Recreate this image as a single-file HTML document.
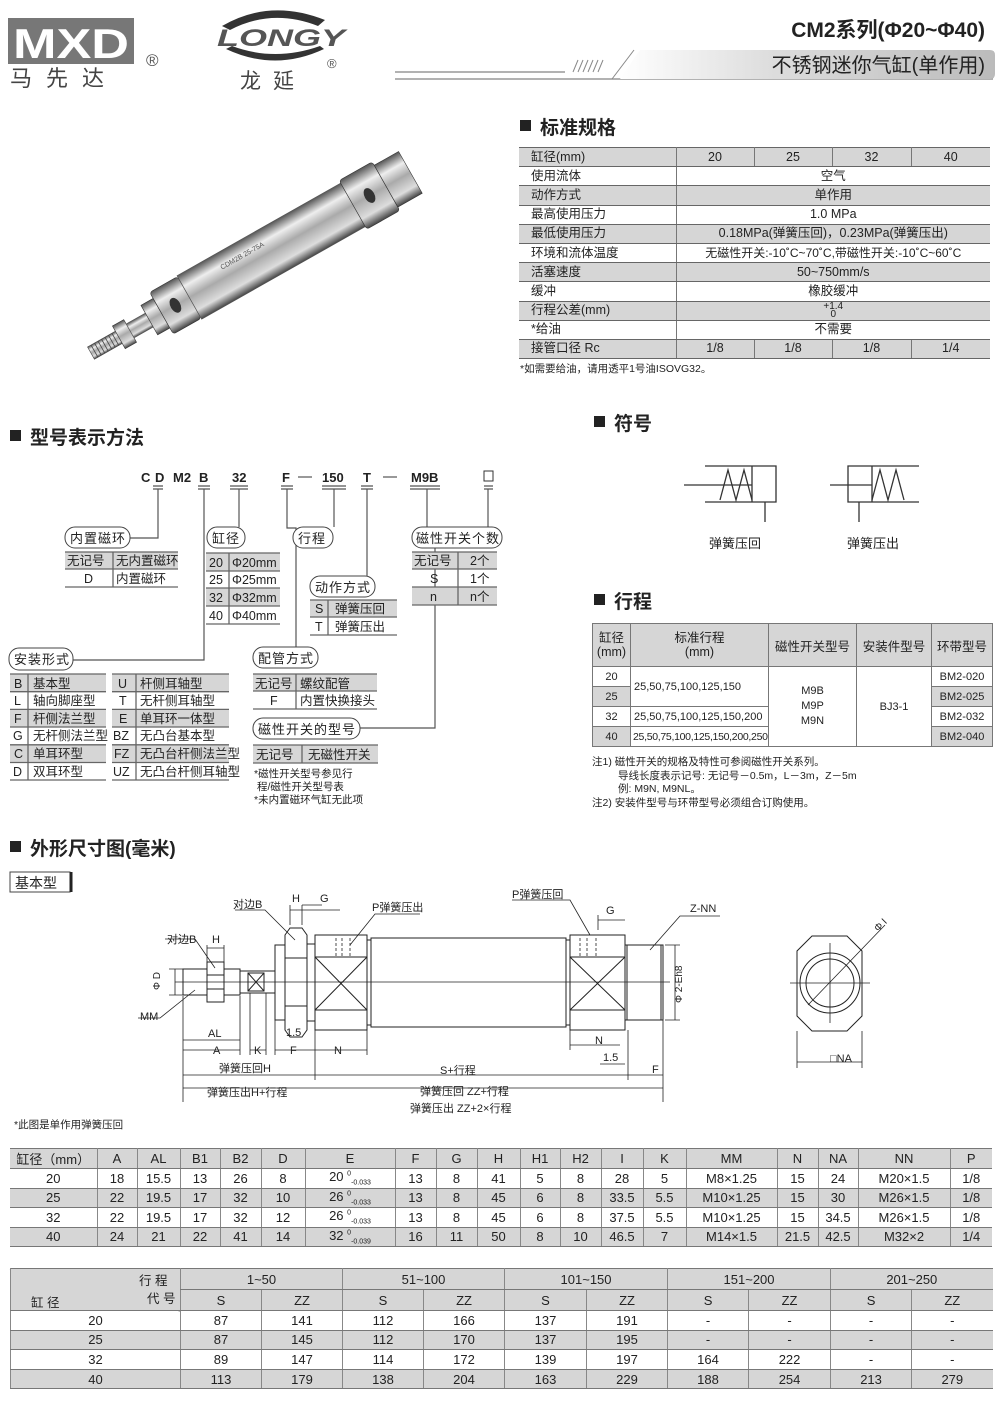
<!DOCTYPE html>
<html><head><meta charset="utf-8">
<style>
body{margin:0;background:#fff;}
#pg{position:relative;width:1000px;height:1403px;overflow:hidden;background:#fff;font-family:"Liberation Sans","Noto Sans CJK SC",sans-serif;color:#222;}
.abs{position:absolute;}
table{border-collapse:collapse;table-layout:fixed;position:absolute;font-family:"Liberation Sans","Noto Sans CJK SC",sans-serif;color:#222;}
td{padding:0;text-align:center;white-space:nowrap;overflow:hidden;}
.g{background:#d6d6d6;}
#spec td{border-bottom:1.5px solid #666;border-left:1px solid #777;font-size:12.5px;height:18.2px;line-height:15px;}
#spec td:first-child{text-align:left;padding-left:12px;border-left:none;}
#dim td{border-bottom:1.5px solid #777;border-left:1px solid #888;font-size:13px;height:18.5px;}
#dim td:first-child{border-left:none;}
#zz td{border-bottom:1.5px solid #777;border-left:1px solid #888;font-size:13px;height:18.6px;}
#st td{border:1px solid #777;font-size:11px;}
</style></head><body><div id="pg">

<svg class="abs" style="left:0;top:0" width="1000" height="1403" font-family="Liberation Sans, Noto Sans CJK SC, sans-serif" fill="#222">
<defs>
<linearGradient id="met" x1="0" y1="0" x2="0" y2="1">
<stop offset="0" stop-color="#555"/><stop offset=".25" stop-color="#eee"/><stop offset=".5" stop-color="#aaa"/><stop offset=".8" stop-color="#ddd"/><stop offset="1" stop-color="#444"/></linearGradient>
<linearGradient id="bar" x1="0" y1="0" x2="1" y2="0"><stop offset="0" stop-color="#fff"/><stop offset=".4" stop-color="#ddd"/><stop offset="1" stop-color="#bbb"/></linearGradient>
</defs>
<rect x="8" y="18" width="126" height="46" fill="#777"/>
<text x="71" y="58" font-size="42" font-weight="bold" fill="#fff" text-anchor="middle" textLength="116" lengthAdjust="spacingAndGlyphs">MXD</text>
<text x="10" y="86" font-size="22" fill="#444" letter-spacing="14">马先达</text>
<text x="146" y="66" font-size="17" fill="#555">®</text>
<path d="M222 26 Q270 -2 325 20 L318 26 Q272 8 230 30Z" fill="#333"/>
<path d="M232 46 Q275 62 320 46 L324 49 Q275 72 226 49Z" fill="#333"/>
<text x="217" y="46" font-size="24" font-weight="bold" font-style="italic" fill="#555" textLength="128" lengthAdjust="spacingAndGlyphs">LONGY</text>
<text x="327" y="68" font-size="13" fill="#555">®</text>
<text x="240" y="88" font-size="21" fill="#444" letter-spacing="12">龙延</text>
<text x="985" y="37" font-size="21" font-weight="bold" text-anchor="end">CM2系列(Φ20~Φ40)</text>
<line x1="395" y1="72" x2="565" y2="72" stroke="#999" stroke-width="1.5"/>
<line x1="395" y1="79" x2="993" y2="79" stroke="#999" stroke-width="1.5"/>
<path d="M640 50 L990 50 Q995 50 995 55 L995 74 Q995 79 990 79 L620 79Z" fill="url(#bar)"/>
<g stroke="#888"><line x1="573" y1="72" x2="578" y2="60"/><line x1="578" y1="72" x2="583" y2="60"/><line x1="583" y1="72" x2="588" y2="60"/><line x1="588" y1="72" x2="593" y2="60"/><line x1="593" y1="72" x2="598" y2="60"/><line x1="598" y1="72" x2="603" y2="60"/><line x1="612" y1="79" x2="634" y2="50"/></g>
<text x="985" y="72" font-size="20" text-anchor="end">不锈钢迷你气缸(单作用)</text>

<g font-size="19" font-weight="bold">
<rect x="520" y="120" width="11" height="11"/><text x="540" y="134">标准规格</text>
<rect x="10" y="430" width="11" height="11"/><text x="30" y="444">型号表示方法</text>
<rect x="594" y="416" width="11" height="11"/><text x="614" y="430">符号</text>
<rect x="594" y="594" width="11" height="11"/><text x="614" y="608">行程</text>
<rect x="10" y="841" width="11" height="11"/><text x="30" y="855">外形尺寸图(毫米)</text>
</g>
<text x="520" y="372" font-size="10.5">*如需要给油，请用透平1号油ISOVG32。</text>

<g transform="translate(252,262) rotate(-29.5)">
<rect x="-185" y="-7" width="42" height="14" fill="url(#met)" stroke="#444" stroke-width=".6"/>
<g stroke="#444" stroke-width=".8"><line x1="-181" y1="-7" x2="-181" y2="7"/><line x1="-177" y1="-7" x2="-177" y2="7"/><line x1="-173" y1="-7" x2="-173" y2="7"/><line x1="-169" y1="-7" x2="-169" y2="7"/><line x1="-165" y1="-7" x2="-165" y2="7"/><line x1="-161" y1="-7" x2="-161" y2="7"/><line x1="-157" y1="-7" x2="-157" y2="7"/></g>
<rect x="-153" y="-13" width="13" height="26" fill="url(#met)" stroke="#333" stroke-width=".6"/>
<rect x="-140" y="-8" width="36" height="16" fill="url(#met)" stroke="#555" stroke-width=".6"/>
<rect x="-118" y="-17" width="14" height="34" fill="url(#met)" stroke="#333" stroke-width=".6"/>
<rect x="-104" y="-24" width="32" height="48" rx="3" fill="url(#met)" stroke="#333" stroke-width=".6"/>
<rect x="-72" y="-25" width="188" height="50" fill="url(#met)" stroke="#555" stroke-width=".6"/>
<rect x="116" y="-28" width="38" height="56" rx="3" fill="url(#met)" stroke="#333" stroke-width=".6"/>
<rect x="154" y="-24" width="28" height="48" fill="url(#met)" stroke="#333" stroke-width=".6"/>
<ellipse cx="-88" cy="0" rx="5" ry="8" fill="#333"/><ellipse cx="135" cy="0" rx="5" ry="8" fill="#333"/>
<text x="-30" y="-8" font-size="7" fill="#555">CDM2B 25-75A</text>
</g>

<g font-size="13" font-weight="bold">
<text x="141" y="482">C</text><text x="155" y="482">D</text><text x="173" y="482">M2</text><text x="199" y="482">B</text><text x="232" y="482">32</text><text x="282" y="482">F</text><text x="322" y="482">150</text><text x="363" y="482">T</text><text x="411" y="482">M9B</text>
</g>
<rect x="484" y="471" width="9" height="10" fill="none" stroke="#333"/>
<g stroke="#555" stroke-width="1.2" fill="none">
<line x1="298" y1="477" x2="312" y2="477"/><line x1="383" y1="477" x2="397" y2="477"/>
<path d="M153 486h10M153 489h10M198 486h12M198 489h12M230 486h18M230 489h18M281 486h12M281 489h12M322 486h24M322 489h24M361 486h12M361 489h12M410 486h30M410 489h30M484 486h9M484 489h9"/>
<path d="M158 489V538H130"/><path d="M204 489V660H73"/><path d="M239 489V527"/><path d="M287 489V528H296V648"/><path d="M334 489V527"/><path d="M367 489V576"/><path d="M427 489V538H435V728H360"/><path d="M488 489V527"/>
</g>
<g fill="#fff" stroke="#444" stroke-width="1">
<rect x="65" y="527" width="65" height="21" rx="10"/><rect x="207" y="527" width="38" height="21" rx="10"/><rect x="293" y="527" width="40" height="21" rx="10"/><rect x="310" y="576" width="65" height="21" rx="10"/><rect x="412" y="527" width="90" height="21" rx="10"/><rect x="9" y="648" width="64" height="22" rx="10"/><rect x="253" y="647" width="65" height="21" rx="10"/><rect x="253" y="718" width="107" height="21" rx="10"/>
</g>
<g font-size="13" letter-spacing="1">
<text x="70" y="543">内置磁环</text><text x="212" y="543">缸径</text><text x="298" y="543">行程</text><text x="315" y="592">动作方式</text><text x="416" y="543">磁性开关个数</text><text x="14" y="664">安装形式</text><text x="258" y="663">配管方式</text><text x="258" y="734">磁性开关的型号</text>
</g>
<g fill="#d6d6d6">
<rect x="65" y="552" width="113" height="17"/>
<rect x="206" y="553" width="74" height="18"/><rect x="206" y="588" width="74" height="18"/>
<rect x="310" y="600" width="87" height="17"/>
<rect x="412" y="552" width="85" height="17"/><rect x="412" y="587" width="85" height="18"/>
<rect x="10" y="674" width="96" height="17.7"/><rect x="10" y="709.4" width="96" height="17.7"/><rect x="10" y="744.8" width="96" height="17.7"/>
<rect x="112" y="674" width="117" height="17.7"/><rect x="112" y="709.4" width="117" height="17.7"/><rect x="112" y="744.8" width="117" height="17.7"/>
<rect x="253" y="674" width="124" height="17"/><rect x="253" y="745" width="125" height="18"/>
</g>
<g stroke="#666" stroke-width="1.3" fill="none">
<path d="M65 552h113M65 569h113M65 587h113M113 552v35"/>
<path d="M206 553h74M206 571h74M206 588h74M206 606h74M206 624h74M229 553v71"/>
<path d="M310 600h87M310 617h87M310 635h87M328 600v35"/>
<path d="M412 552h85M412 569h85M412 587h85M412 605h85M458 552v53"/>
<path d="M10 674h96M10 691.7h96M10 709.4h96M10 727h96M10 744.8h96M10 762.5h96M10 780h96M28 674v106"/>
<path d="M112 674h117M112 691.7h117M112 709.4h117M112 727h117M112 744.8h117M112 762.5h117M112 780h117M136 674v106"/>
<path d="M253 674h124M253 691h124M253 709h124M296 674v35"/>
<path d="M253 745h125M253 763h125M302 745v18"/>
</g>
<g font-size="12.5">
<text x="67" y="565">无记号</text><text x="116" y="565">无内置磁环</text><text x="84" y="583">D</text><text x="116" y="583">内置磁环</text>
<text x="209" y="567">20</text><text x="232" y="567">Φ20mm</text><text x="209" y="584">25</text><text x="232" y="584">Φ25mm</text><text x="209" y="602">32</text><text x="232" y="602">Φ32mm</text><text x="209" y="620">40</text><text x="232" y="620">Φ40mm</text>
<text x="315" y="613">S</text><text x="335" y="613">弹簧压回</text><text x="315" y="631">T</text><text x="335" y="631">弹簧压出</text>
<text x="414" y="565">无记号</text><text x="470" y="565">2个</text><text x="430" y="583">S</text><text x="470" y="583">1个</text><text x="430" y="601">n</text><text x="470" y="601">n个</text>
<text x="14" y="688">B</text><text x="33" y="688">基本型</text><text x="14" y="705">L</text><text x="33" y="705">轴向脚座型</text><text x="14" y="723">F</text><text x="33" y="723">杆侧法兰型</text><text x="13" y="740">G</text><text x="33" y="740">无杆侧法兰型</text><text x="14" y="758">C</text><text x="33" y="758">单耳环型</text><text x="13" y="776">D</text><text x="33" y="776">双耳环型</text>
<text x="118" y="688">U</text><text x="140" y="688">杆侧耳轴型</text><text x="119" y="705">T</text><text x="140" y="705">无杆侧耳轴型</text><text x="119" y="723">E</text><text x="140" y="723">单耳环一体型</text><text x="113" y="740">BZ</text><text x="140" y="740">无凸台基本型</text><text x="114" y="758">FZ</text><text x="140" y="758">无凸台杆侧法兰型</text><text x="113" y="776">UZ</text><text x="140" y="776">无凸台杆侧耳轴型</text>
<text x="255" y="688">无记号</text><text x="300" y="688">螺纹配管</text><text x="270" y="705">F</text><text x="300" y="705">内置快换接头</text>
<text x="256" y="759">无记号</text><text x="308" y="759">无磁性开关</text>
</g>
<g font-size="10.5"><text x="254" y="777">*磁性开关型号参见行</text><text x="257" y="790">程/磁性开关型号表</text><text x="254" y="803">*未内置磁环气缸无此项</text></g>

<g stroke="#333" stroke-width="1.3" fill="none">
<path d="M705 466H776V502H705M752 466V502M684 485H752M765 502V522"/>
<path d="M720 500L728 470L736 500L744 470L752 500"/>
<path d="M919 466H848V502H919M872 466V502M830 485H872M859 502V522"/>
<path d="M872 500L880 470L888 500L896 470L904 500"/>
</g>
<g font-size="13"><text x="709" y="548">弹簧压回</text><text x="847" y="548">弹簧压出</text></g>
<g font-size="10.5">
<text x="592" y="765">注1) 磁性开关的规格及特性可参阅磁性开关系列。</text>
<text x="618" y="779">导线长度表示记号: 无记号－0.5m，L－3m，Z－5m</text>
<text x="618" y="792">例: M9N, M9NL。</text>
<text x="592" y="806">注2) 安装件型号与环带型号必须组合订购使用。</text>
</g>

<rect x="10" y="872" width="60" height="20" fill="none" stroke="#444"/><line x1="71" y1="872" x2="71" y2="892" stroke="#222" stroke-width="3"/>
<text x="15" y="888" font-size="14">基本型</text>

<g stroke="#222" stroke-width="1" fill="#fff">
<rect x="183" y="969" width="57" height="26"/>
<rect x="207" y="962" width="17" height="40"/>
<path d="M207 975h17M207 989h17" fill="none"/>
<rect x="240" y="971" width="35" height="22"/>
<rect x="248" y="973" width="16" height="18"/><path d="M248 973L264 991M264 973L248 991" fill="none"/>
<rect x="275" y="945" width="10" height="75"/>
<path d="M285 935L290 928H302L307 935V1030L302 1037H290L285 1030Z"/>
<path d="M285 958h22M285 1006h22" fill="none"/>
<rect x="307" y="944" width="8" height="77"/>
<rect x="315" y="935" width="52" height="95"/>
<path d="M315 957h52M315 1010h52M315 957L367 1010M367 957L315 1010" fill="none"/>
<rect x="367" y="940" width="4" height="85"/>
<rect x="371" y="938" width="195" height="89"/>
<rect x="566" y="940" width="4" height="85"/>
<rect x="570" y="935" width="55" height="95"/>
<path d="M570 957h55M570 1010h55M570 957L625 1010M625 957L570 1010" fill="none"/>
<rect x="625" y="945" width="38" height="75"/>
<path d="M627 945v75M661 945v75" fill="none"/>
</g>
<g stroke="#222" stroke-width=".8" fill="none">
<line x1="175" y1="982" x2="670" y2="982"/>
<path d="M336 938v18M342 938v18M350 938v18M580 938v18M587 938v18M596 938v18" stroke-dasharray="3 2"/>
<path d="M183 996V1102M240 996V1055M250 993V1055M266 993V1055M275 1020V1055M315 1030V1080M367 1030V1055M663 1020V1102M628 1030V1080M570 1030V1050"/>
<path d="M183 1040H240M183 1050H240M250 1050H266M275 1050H315M315 1050H367M570 1045H620M183 1075H315M315 1075H628M628 1075H663M183 1088H663M600 1064H625"/>
<path d="M169 969H186M169 995H186M175 969V995"/>
<path d="M665 945H680M665 1020H680M675 945V1020"/>
<path d="M207 945V962M224 945V962M207 948H224M290 905V925M302 905V925M290 910H302M302 905H322M302 910H340M598 920H625M598 915V930"/>
<path d="M165 939H195L215 968M235 910H265L295 940M420 914H375L350 945M512 900H570L590 935M720 916H680L650 950M138 1018H160L195 990"/>
</g>
<g font-size="11">
<text x="167" y="943">对边B</text><text x="212" y="943">H</text>
<text x="233" y="908">对边B</text><text x="292" y="902">H</text><text x="320" y="902">G</text>
<text x="372" y="911">P弹簧压出</text><text x="512" y="898">P弹簧压回</text><text x="606" y="914">G</text><text x="690" y="912">Z-NN</text>
<text x="140" y="1020">MM</text>
<text x="208" y="1037">AL</text><text x="213" y="1054">A</text><text x="254" y="1054">K</text><text x="290" y="1054">F</text><text x="334" y="1054">N</text><text x="286" y="1036">1.5</text>
<text x="595" y="1044">N</text><text x="603" y="1061">1.5</text>
<text x="219" y="1072">弹簧压回H</text><text x="440" y="1074">S+行程</text><text x="652" y="1073">F</text>
<text x="207" y="1096">弹簧压出H+行程</text><text x="420" y="1095">弹簧压回 ZZ+行程</text><text x="410" y="1112">弹簧压出 ZZ+2×行程</text>
<text x="14" y="1128" font-size="10.5">*此图是单作用弹簧压回</text>
<text transform="translate(160,990) rotate(-90)" font-size="10">Φ D</text>
<text transform="translate(682,1003) rotate(-90)" font-size="10">Φ 2-Eh8</text>
</g>
<g stroke="#222" stroke-width="1" fill="#fff">
<path d="M812 936H847L862 951V1016L847 1031H812L797 1016V951Z"/>
<circle cx="830" cy="983" r="30"/><circle cx="830" cy="983" r="24"/>
</g>
<g stroke="#222" stroke-width=".8" fill="none">
<line x1="790" y1="983" x2="870" y2="983"/><line x1="830" y1="943" x2="830" y2="1023"/>
<line x1="808" y1="1005" x2="885" y2="925"/>
<path d="M797 1031V1068M862 1031V1068M797 1062H862"/>
</g>
<text x="830" y="1062" font-size="11">□NA</text>
<text transform="translate(878,932) rotate(-45)" font-size="10">Φ I</text>

<line x1="10" y1="1269" x2="180" y2="1311" stroke="#555"/>
<line x1="10" y1="1269" x2="180" y2="1290" stroke="#555"/>
</svg>

<table id="spec" style="left:519px;top:147px;width:471px;border-top:1.5px solid #666">
<colgroup><col style="width:157px"><col style="width:78px"><col style="width:78px"><col style="width:79px"><col style="width:79px"></colgroup>
<tr class="g"><td>缸径(mm)</td><td>20</td><td>25</td><td>32</td><td>40</td></tr>
<tr><td>使用流体</td><td colspan="4">空气</td></tr>
<tr class="g"><td>动作方式</td><td colspan="4">单作用</td></tr>
<tr><td>最高使用压力</td><td colspan="4">1.0 MPa</td></tr>
<tr class="g"><td>最低使用压力</td><td colspan="4">0.18MPa(弹簧压回)，0.23MPa(弹簧压出)</td></tr>
<tr><td>环境和流体温度</td><td colspan="4" style="font-size:12px">无磁性开关:-10˚C~70˚C,带磁性开关:-10˚C~60˚C</td></tr>
<tr class="g"><td>活塞速度</td><td colspan="4">50~750mm/s</td></tr>
<tr><td>缓冲</td><td colspan="4">橡胶缓冲</td></tr>
<tr class="g"><td>行程公差(mm)</td><td colspan="4" style="font-size:10px;line-height:8px">+1.4<br>0</td></tr>
<tr><td>*给油</td><td colspan="4">不需要</td></tr>
<tr class="g"><td>接管口径 Rc</td><td>1/8</td><td>1/8</td><td>1/8</td><td>1/4</td></tr>
</table>

<table id="st" style="left:592px;top:623px;width:400px">
<colgroup><col style="width:38px"><col style="width:138px"><col style="width:88px"><col style="width:75px"><col style="width:61px"></colgroup>
<tr class="g" style="height:43px"><td style="font-size:12.5px;line-height:14px">缸径<br>(mm)</td><td style="font-size:12.5px;line-height:14px">标准行程<br>(mm)</td><td style="font-size:12.5px">磁性开关型号</td><td style="font-size:12.5px">安装件型号</td><td style="font-size:12.5px">环带型号</td></tr>
<tr style="height:20px"><td>20</td><td rowspan="2" style="text-align:left;padding-left:3px">25,50,75,100,125,150</td><td rowspan="4" style="line-height:15px">M9B<br>M9P<br>M9N</td><td rowspan="4">BJ3-1</td><td>BM2-020</td></tr>
<tr style="height:20px"><td class="g">25</td><td class="g">BM2-025</td></tr>
<tr style="height:20px"><td>32</td><td style="text-align:left;padding-left:3px">25,50,75,100,125,150,200</td><td>BM2-032</td></tr>
<tr style="height:20px"><td class="g">40</td><td style="text-align:left;padding-left:2px;font-size:10.5px;letter-spacing:-.3px">25,50,75,100,125,150,200,250</td><td class="g">BM2-040</td></tr>
</table>

<table id="dim" style="left:10px;top:1148px;width:982px;border-top:1.5px solid #777">
<colgroup><col style="width:87px"><col style="width:40px"><col style="width:43px"><col style="width:40px"><col style="width:41px"><col style="width:44px"><col style="width:90px"><col style="width:41px"><col style="width:41px"><col style="width:43px"><col style="width:40px"><col style="width:41px"><col style="width:42px"><col style="width:43px"><col style="width:91px"><col style="width:41px"><col style="width:40px"><col style="width:92px"><col style="width:42px"></colgroup>
<tr class="g"><td>缸径（mm）</td><td>A</td><td>AL</td><td>B1</td><td>B2</td><td>D</td><td>E</td><td>F</td><td>G</td><td>H</td><td>H1</td><td>H2</td><td>I</td><td>K</td><td>MM</td><td>N</td><td>NA</td><td>NN</td><td>P</td></tr>
<tr><td>20</td><td>18</td><td>15.5</td><td>13</td><td>26</td><td>8</td><td>20 <sup style="font-size:7px">0</sup><sub style="font-size:7px">-0.033</sub></td><td>13</td><td>8</td><td>41</td><td>5</td><td>8</td><td>28</td><td>5</td><td>M8×1.25</td><td>15</td><td>24</td><td>M20×1.5</td><td>1/8</td></tr>
<tr class="g"><td>25</td><td>22</td><td>19.5</td><td>17</td><td>32</td><td>10</td><td>26 <sup style="font-size:7px">0</sup><sub style="font-size:7px">-0.033</sub></td><td>13</td><td>8</td><td>45</td><td>6</td><td>8</td><td>33.5</td><td>5.5</td><td>M10×1.25</td><td>15</td><td>30</td><td>M26×1.5</td><td>1/8</td></tr>
<tr><td>32</td><td>22</td><td>19.5</td><td>17</td><td>32</td><td>12</td><td>26 <sup style="font-size:7px">0</sup><sub style="font-size:7px">-0.033</sub></td><td>13</td><td>8</td><td>45</td><td>6</td><td>8</td><td>37.5</td><td>5.5</td><td>M10×1.25</td><td>15</td><td>34.5</td><td>M26×1.5</td><td>1/8</td></tr>
<tr class="g"><td>40</td><td>24</td><td>21</td><td>22</td><td>41</td><td>14</td><td>32 <sup style="font-size:7px">0</sup><sub style="font-size:7px">-0.039</sub></td><td>16</td><td>11</td><td>50</td><td>8</td><td>10</td><td>46.5</td><td>7</td><td>M14×1.5</td><td>21.5</td><td>42.5</td><td>M32×2</td><td>1/4</td></tr>
</table>

<table id="zz" style="left:10px;top:1268px;width:982px;border-top:1.5px solid #777">
<colgroup><col style="width:170px"><col style="width:81px"><col style="width:81px"><col style="width:81px"><col style="width:81px"><col style="width:82px"><col style="width:81px"><col style="width:81px"><col style="width:82px"><col style="width:81px"><col style="width:81px"></colgroup>
<tr class="g" style="height:21px"><td rowspan="2" style="position:relative;text-align:left;font-size:12.5px;vertical-align:top"><span style="position:absolute;left:128px;top:1px">行 程</span><span style="position:absolute;left:136px;top:19px">代 号</span><span style="position:absolute;left:20px;top:23px">缸 径</span></td><td colspan="2">1~50</td><td colspan="2">51~100</td><td colspan="2">101~150</td><td colspan="2">151~200</td><td colspan="2">201~250</td></tr>
<tr class="g" style="height:21px"><td>S</td><td>ZZ</td><td>S</td><td>ZZ</td><td>S</td><td>ZZ</td><td>S</td><td>ZZ</td><td>S</td><td>ZZ</td></tr>
<tr><td>20</td><td>87</td><td>141</td><td>112</td><td>166</td><td>137</td><td>191</td><td>-</td><td>-</td><td>-</td><td>-</td></tr>
<tr class="g"><td>25</td><td>87</td><td>145</td><td>112</td><td>170</td><td>137</td><td>195</td><td>-</td><td>-</td><td>-</td><td>-</td></tr>
<tr><td>32</td><td>89</td><td>147</td><td>114</td><td>172</td><td>139</td><td>197</td><td>164</td><td>222</td><td>-</td><td>-</td></tr>
<tr class="g"><td>40</td><td>113</td><td>179</td><td>138</td><td>204</td><td>163</td><td>229</td><td>188</td><td>254</td><td>213</td><td>279</td></tr>
</table>

</div></body></html>
